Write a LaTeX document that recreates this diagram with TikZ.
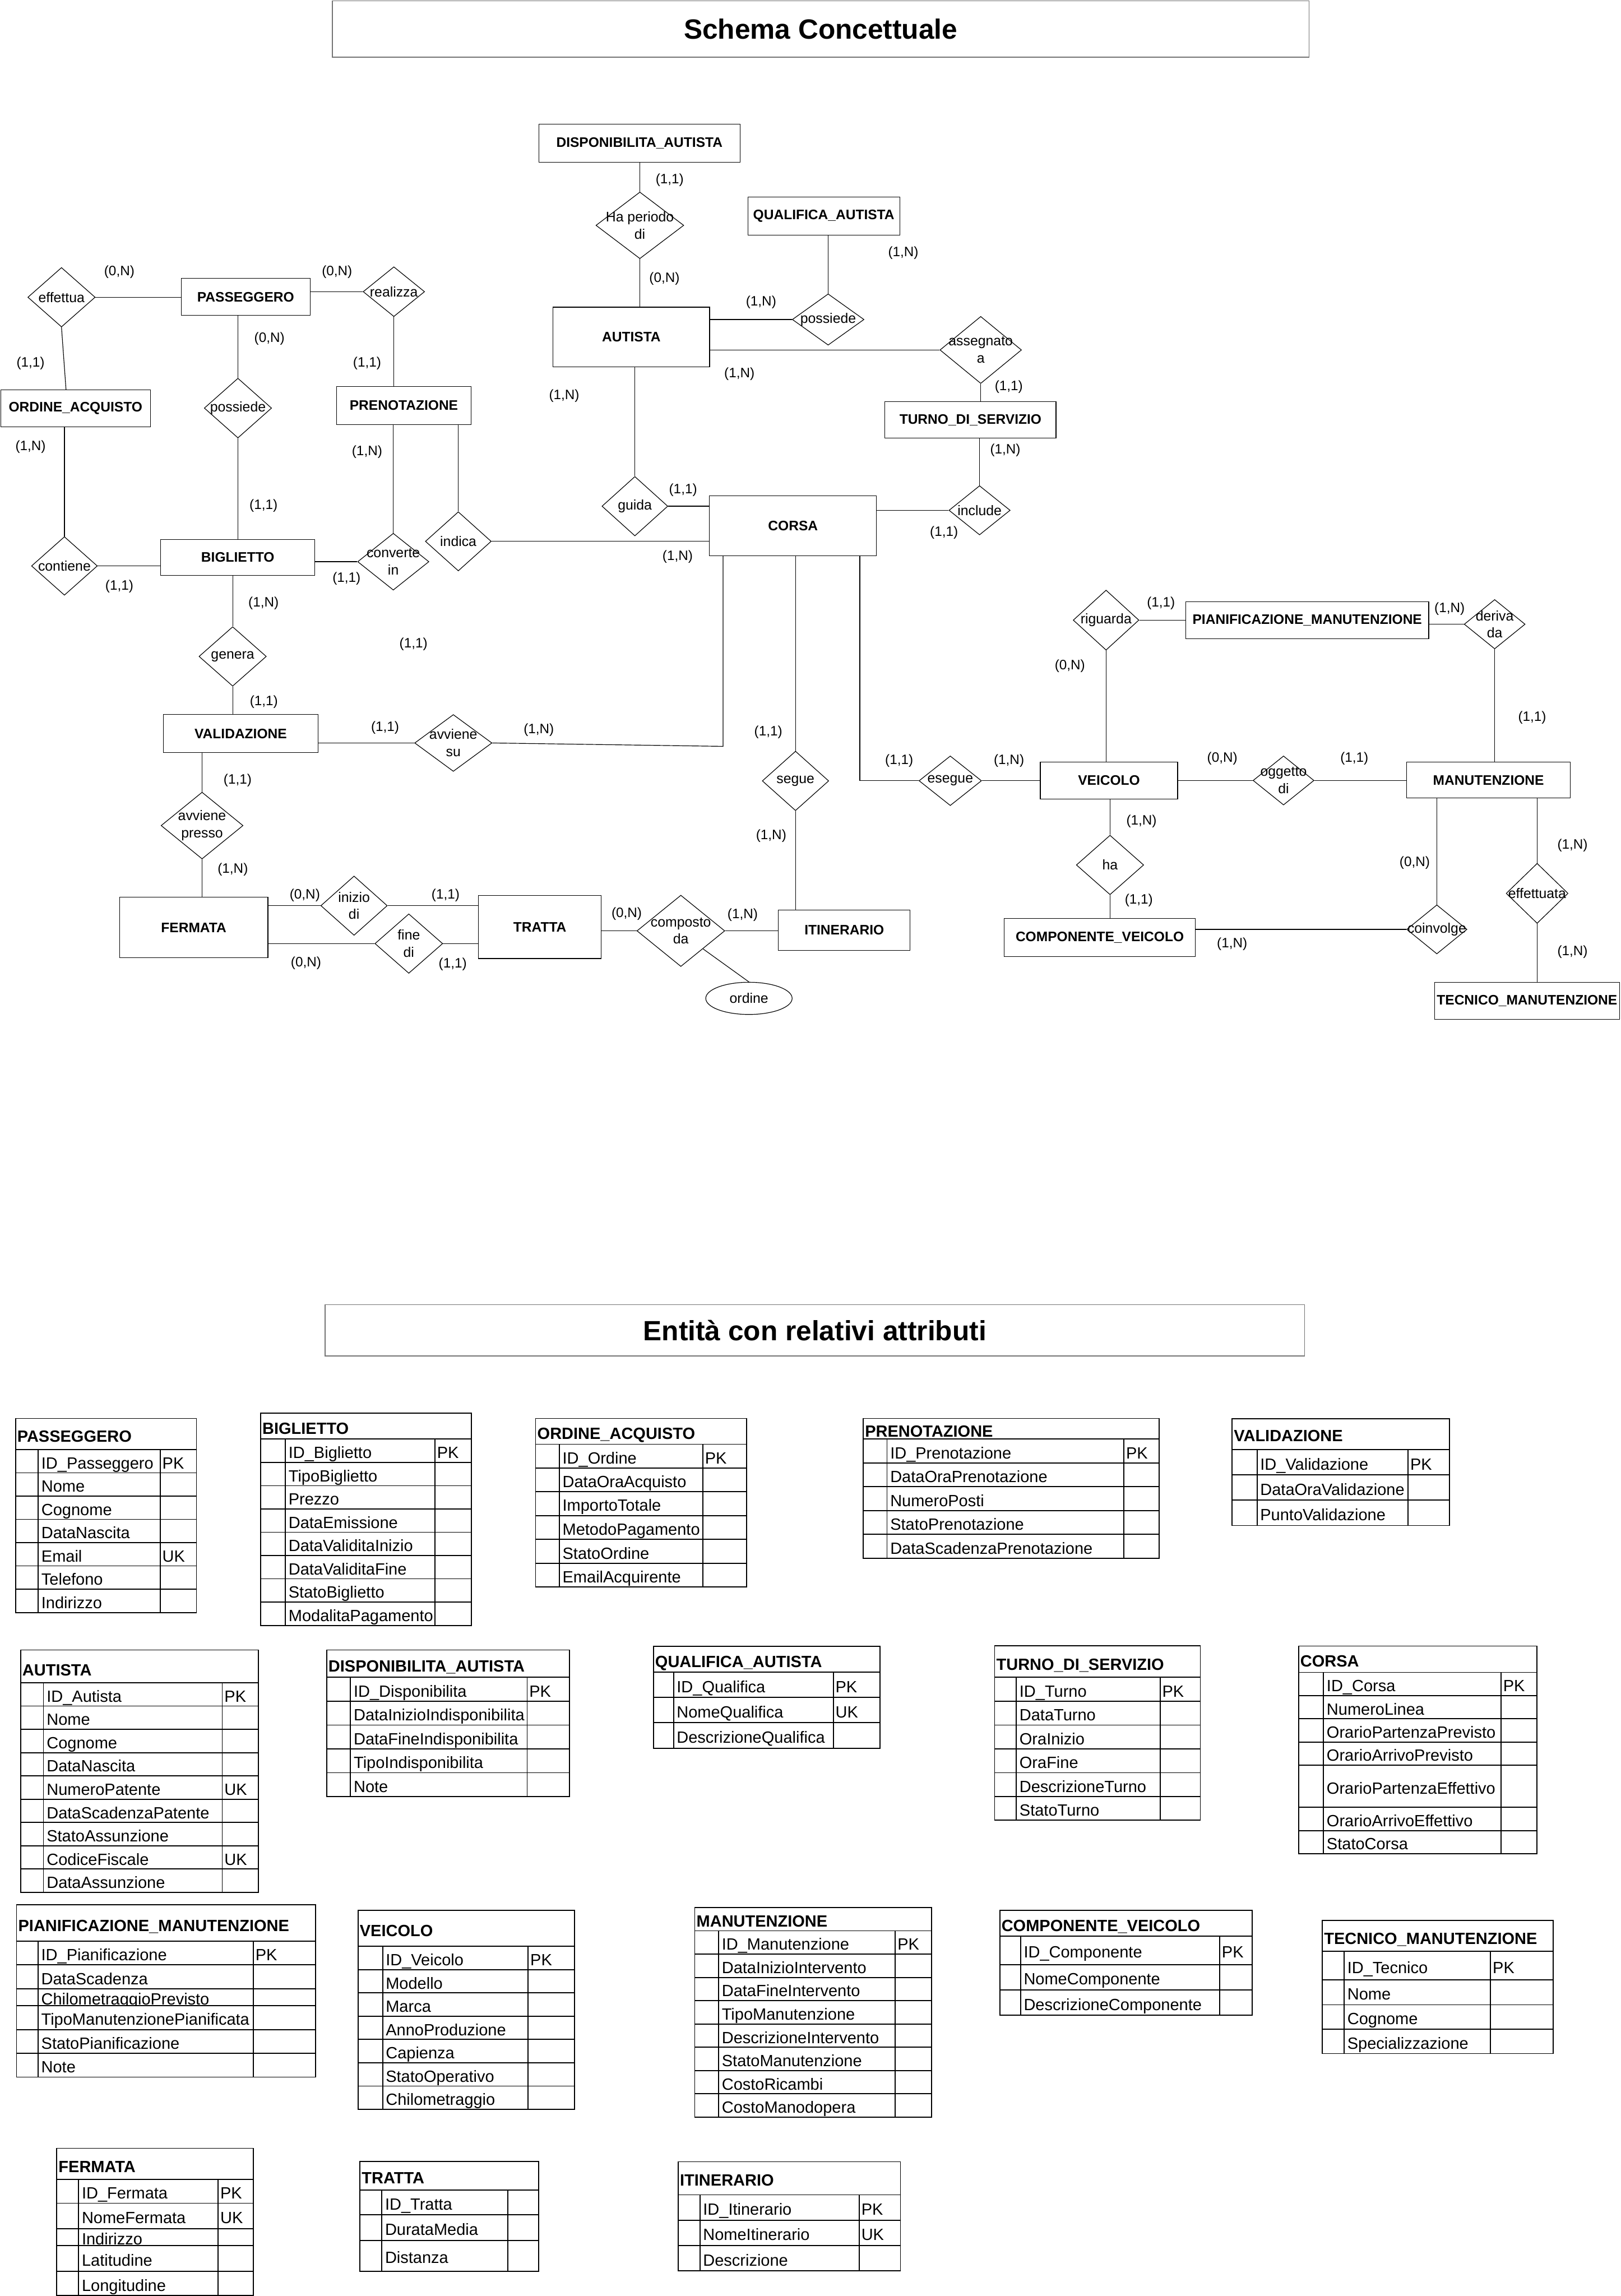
\documentclass[tikz,border=0pt]{standalone}
\usepackage{fontspec}
\setmainfont{Liberation Sans}
\usetikzlibrary{shapes.geometric}
\tikzset{
  ent/.style={draw, line width=0.45pt, inner sep=0pt, font=\fontsize{9.4}{11}\selectfont\bfseries},
  reldia/.style={draw, diamond, line width=0.45pt, inner sep=0pt},
  reltxt/.style={font=\fontsize{9.5}{11.8}\selectfont, align=center, inner sep=0pt},
  card/.style={font=\fontsize{9.3}{11}\selectfont, inner sep=0pt},
  conn/.style={line width=0.45pt},
  tline/.style={line width=0.7pt},
  ttitle/.style={font=\fontsize{11.1}{13}\selectfont\bfseries, anchor=base west, inner sep=0pt},
  tcell/.style={font=\fontsize{11.1}{13}\selectfont, anchor=base west, inner sep=0pt},
  bigtitle/.style={draw=black!55, line width=0.5pt, inner sep=0pt, font=\fontsize{19}{22}\selectfont\bfseries}
}
\newcommand{\reln}[6]{%
  \node[reldia, minimum width=#4pt, minimum height=#5pt] (#1) at (#2,#3) {};
  \node[reltxt] (#1t) at (#1) {#6};}
\newcommand{\ertable}[8]{%
  \draw[tline] (#2,#6) rectangle (#3,#7);
  \foreach \yb/\txt/\kk [remember=\yb as \ya (initially #7), count=\ci] in {#8} {
    \draw[tline, fill=white] (#2,\ya) rectangle (#3,\yb);
    \draw[tline] (#4,\ya) -- (#4,\yb) (#5,\ya) -- (#5,\yb);
    \node[tcell] (#1r\ci) at ({#4+2},{(\ya+\yb)/2+5.2}) {\txt};
    \node[tcell] (#1k\ci) at ({#5+1.3},{(\ya+\yb)/2+5.2}) {\kk};
  }}
\begin{document}
\begin{tikzpicture}[x=1pt,y=-1pt]
\useasboundingbox (0,0) rectangle (1107.07,1568);
\fill[white] (0,0) rectangle (1107.07,1568);

% ---------- titles ----------
\node[bigtitle, minimum width=667pt, minimum height=38.4pt] (title1) at (560.5,19.8) {Schema Concettuale};
\node[bigtitle, minimum width=669pt, minimum height=35pt] (title2) at (556.5,908.5) {Entità con relativi attributi};

% ---------- entities ----------
\node[ent, minimum width=137.5pt, minimum height=25.9pt] (dispa) at (436.7,97.9) {DISPONIBILITA\_AUTISTA};
\node[ent, minimum width=103.8pt, minimum height=25.9pt] (quala) at (562.6,147.5) {QUALIFICA\_AUTISTA};
\node[ent, minimum width=88.1pt, minimum height=25.2pt] (pass) at (167.8,202.8) {PASSEGGERO};
\node[ent, minimum width=106.9pt, minimum height=40.6pt] (autista) at (431.2,230.1) {AUTISTA};
\node[ent, minimum width=102.2pt, minimum height=25.2pt] (ordacq) at (51.6,279) {ORDINE\_ACQUISTO};
\node[ent, minimum width=92pt, minimum height=25.9pt] (pren) at (275.8,276.9) {PRENOTAZIONE};
\node[ent, minimum width=116.8pt, minimum height=24.8pt] (turno) at (662.8,286.7) {TURNO\_DI\_SERVIZIO};
\node[ent, minimum width=114pt, minimum height=41pt] (corsa) at (541.6,359) {CORSA};
\node[ent, minimum width=105.3pt, minimum height=24.8pt] (bigl) at (162.4,380.7) {BIGLIETTO};
\node[ent, minimum width=166pt, minimum height=25pt] (pianif) at (892.8,423.6) {PIANIFICAZIONE\_MANUTENZIONE};
\node[ent, minimum width=105.5pt, minimum height=26pt] (valid) at (164.4,501) {VALIDAZIONE};
\node[ent, minimum width=93.8pt, minimum height=25.3pt] (veic) at (757.4,533) {VEICOLO};
\node[ent, minimum width=111.8pt, minimum height=24.7pt] (manut) at (1016.6,532.7) {MANUTENZIONE};
\node[ent, minimum width=101.4pt, minimum height=41.2pt] (ferm) at (132.3,633.4) {FERMATA};
\node[ent, minimum width=83.9pt, minimum height=43.2pt] (tratta) at (368.7,633) {TRATTA};
\node[ent, minimum width=90pt, minimum height=27.4pt] (itin) at (576.6,635.2) {ITINERARIO};
\node[ent, minimum width=130.6pt, minimum height=25.9pt] (compv) at (751.1,640.2) {COMPONENTE\_VEICOLO};
\node[ent, minimum width=126.2pt, minimum height=25.4pt] (tecn) at (1042.9,683.5) {TECNICO\_MANUTENZIONE};

% ---------- relationships ----------
\reln{hp}{437}{153.9}{60}{45.5}{Ha periodo\\di}
\reln{effettua}{42}{203}{46}{40.6}{effettua}
\reln{realizza}{269}{199.2}{42}{34}{realizza}
\reln{possl}{162.5}{278.7}{46}{40.8}{possiede}
\reln{possr}{565.6}{218.2}{49}{35}{possiede}
\reln{assegn}{669.8}{239}{55.7}{45.8}{assegnato\\a}
\reln{guida}{433.6}{345.7}{45}{40.6}{guida}
\reln{indica}{313}{369.7}{45}{40.4}{indica}
\reln{contiene}{44}{386.5}{45}{40}{contiene}
\reln{conv}{268.6}{383.6}{48.7}{38.8}{converte\\in}
\reln{include}{669}{348.5}{41.8}{33.6}{include}
\reln{genera}{158.9}{448.3}{46}{40.6}{genera}
\reln{avsu}{309.6}{507.4}{52.8}{38.8}{avviene\\su}
\reln{avpr}{138}{563.8}{56}{45.6}{avviene\\presso}
\reln{inizio}{241.8}{618.5}{45.4}{40.5}{inizio\\di}
\reln{fine}{279.2}{644.4}{46.3}{40.6}{fine\\di}
\reln{compd}{465}{635.7}{60}{48.7}{composto\\da}
\reln{segue}{543.3}{533.3}{45.4}{40.6}{segue}
\reln{esegue}{649}{533.2}{42.7}{33.9}{esegue}
\reln{ogg}{876.6}{533}{41.6}{33.5}{oggetto\\di}
\reln{riguarda}{755.4}{423.5}{44.9}{41}{riguarda}
\reln{deriva}{1020.8}{426.3}{41.6}{33.7}{deriva\\da}
\reln{ha}{758.1}{590.7}{46}{40.6}{ha}
\reln{coinv}{981.3}{634.7}{41.2}{33.5}{coinvolge}
\reln{effett}{1049.8}{610.1}{42.3}{41}{effettuata}
\node[draw, ellipse, line width=0.45pt, inner sep=0pt, minimum width=59pt, minimum height=22pt, font=\fontsize{9.5}{11}\selectfont] (ordattr) at (511.5,681.8) {ordine};

% ---------- connectors ----------
\draw[conn] (hp.north |- dispa.south) -- (hp.north);
\draw[conn] (hp.south) -- (hp.south |- autista.north);
\draw[conn] (possr.north |- quala.south) -- (possr.north);
\draw[conn] (autista.east |- possr.west) -- (possr.west);
\draw[conn] (autista.east |- assegn.west) -- (assegn.west);
\draw[conn] (assegn.south) -- (assegn.south |- turno.north);
\draw[conn] (include.north |- turno.south) -- (include.north);
\draw[conn] (corsa.east |- include.west) -- (include.west);
\draw[conn] (guida.north |- autista.south) -- (guida.north);
\draw[conn] (guida.east) -- (corsa.west |- guida.east);
\draw[conn] (indica.east) -- (corsa.west |- indica.east);
\draw[conn] (effettua.east) -- (pass.west |- effettua.east);
\draw[conn] (effettua.south) -- ([xshift=-6.5pt]ordacq.north);
\draw[conn] (pass.east |- realizza.west) -- (realizza.west);
\draw[conn] (possl.north |- pass.south) -- (possl.north);
\draw[conn] (realizza.south) -- (realizza.south |- pren.north);
\draw[conn] (contiene.north |- ordacq.south) -- (contiene.north);
\draw[conn] (possl.south) -- (possl.south |- bigl.north);
\draw[conn] (conv.north |- pren.south) -- (conv.north);
\draw[conn] (indica.north |- pren.south) -- (indica.north);
\draw[conn] (contiene.east) -- (bigl.west |- contiene.east);
\draw[conn] (bigl.east |- conv.west) -- (conv.west);
\draw[conn] (genera.north |- bigl.south) -- (genera.north);
\draw[conn] (genera.south) -- (genera.south |- valid.north);
\draw[conn] (valid.east |- avsu.west) -- (avsu.west);
\coordinate (cv) at (493.8,509.7);
\draw[conn] (avsu.east) -- (cv) -- (cv |- corsa.south);
\draw[conn] (avpr.north |- valid.south) -- (avpr.north);
\draw[conn] (avpr.south) -- (avpr.south |- ferm.north);
\draw[conn] (ferm.east |- inizio.west) -- (inizio.west);
\draw[conn] (inizio.east) -- (tratta.west |- inizio.east);
\draw[conn] (ferm.east |- fine.west) -- (fine.west);
\draw[conn] (fine.east) -- (tratta.west |- fine.east);
\draw[conn] (tratta.east |- compd.west) -- (compd.west);
\draw[conn] (compd.east) -- (itin.west |- compd.east);
\draw[conn] (compd.south east) -- (ordattr.north);
\draw[conn] (segue.north |- corsa.south) -- (segue.north);
\draw[conn] (segue.south) -- (segue.south |- itin.north);
\coordinate (ce) at (587.2,533.2);
\draw[conn] (ce |- corsa.south) -- (ce) -- (esegue.west);
\draw[conn] (esegue.east) -- (veic.west |- esegue.east);
\draw[conn] (veic.east |- ogg.west) -- (ogg.west);
\draw[conn] (ogg.east) -- (manut.west |- ogg.east);
\draw[conn] (riguarda.east) -- (pianif.west |- riguarda.east);
\draw[conn] (riguarda.south) -- (riguarda.south |- veic.north);
\draw[conn] (pianif.east |- deriva.west) -- (deriva.west);
\draw[conn] (deriva.south) -- (deriva.south |- manut.north);
\draw[conn] (ha.north |- veic.south) -- (ha.north);
\draw[conn] (ha.south) -- (ha.south |- compv.north);
\draw[conn] (compv.east |- coinv.west) -- (coinv.west);
\draw[conn] (coinv.north |- manut.south) -- (coinv.north);
\draw[conn] (effett.north |- manut.south) -- (effett.north);
\draw[conn] (effett.south) -- (effett.south |- tecn.north);

% ---------- cardinalities ----------
\node[card] (k1) at (457.4,123) {(1,1)};
\node[card] (k2) at (81.5,185.7) {(0,N)};
\node[card] (k3) at (230.2,185.7) {(0,N)};
\node[card] (k4) at (453.8,190.2) {(0,N)};
\node[card] (k5) at (519.8,206.6) {(1,N)};
\node[card] (k6) at (184,231.2) {(0,N)};
\node[card] (k7) at (20.9,248.3) {(1,1)};
\node[card] (k8) at (250.7,248.3) {(1,1)};
\node[card] (k9) at (505,255.6) {(1,N)};
\node[card] (k10) at (385.3,270.2) {(1,N)};
\node[card] (k11) at (20.9,305.1) {(1,N)};
\node[card] (k12) at (250.7,308.5) {(1,N)};
\node[card] (k13) at (466.5,334.5) {(1,1)};
\node[card] (k14) at (180,345.3) {(1,1)};
\node[card] (k15) at (462.8,380.2) {(1,N)};
\node[card] (k16) at (236.7,395.3) {(1,1)};
\node[card] (k17) at (81.5,400.5) {(1,1)};
\node[card] (k18) at (180,411.8) {(1,N)};
\node[card] (k19) at (616.9,172.6) {(1,N)};
\node[card] (k20) at (689,264.1) {(1,1)};
\node[card] (k21) at (686.6,307.4) {(1,N)};
\node[card] (k22) at (644.7,363.8) {(1,1)};
\node[card] (k23) at (282.4,440.1) {(1,1)};
\node[card] (k24) at (180.2,479.3) {(1,1)};
\node[card] (k25) at (263,497.1) {(1,1)};
\node[card] (k26) at (368,498.4) {(1,N)};
\node[card] (k27) at (162.3,532.8) {(1,1)};
\node[card] (k28) at (159,593.7) {(1,N)};
\node[card] (k29) at (208.2,611.6) {(0,N)};
\node[card] (k30) at (304.3,611.6) {(1,1)};
\node[card] (k31) at (209,657.6) {(0,N)};
\node[card] (k32) at (309.2,658.6) {(1,1)};
\node[card] (k33) at (428,624.1) {(0,N)};
\node[card] (k34) at (507.2,624.7) {(1,N)};
\node[card] (k35) at (524.7,500) {(1,1)};
\node[card] (k36) at (526.7,570.8) {(1,N)};
\node[card] (k37) at (614.1,519.7) {(1,1)};
\node[card] (k38) at (689.1,519.7) {(1,N)};
\node[card] (k39) at (834.8,518) {(0,N)};
\node[card] (k40) at (925,518) {(1,1)};
\node[card] (k41) at (792.9,412.1) {(1,1)};
\node[card] (k42) at (990,415.8) {(1,N)};
\node[card] (k43) at (1046.4,490.2) {(1,1)};
\node[card] (k44) at (730.7,454.7) {(0,N)};
\node[card] (k45) at (779.6,560.8) {(1,N)};
\node[card] (k46) at (777.8,615) {(1,1)};
\node[card] (k47) at (841.5,644.8) {(1,N)};
\node[card] (k48) at (966.2,589.2) {(0,N)};
\node[card] (k49) at (1074,577.5) {(1,N)};
\node[card] (k50) at (1074,650.1) {(1,N)};

% ---------- tables ----------
\ertable{tpass}{10.6}{134.2}{26.1}{109.4}{968.7}{989.9}{1005.8/ID\_Passeggero/PK, 1021.7/Nome/{}, 1037.6/Cognome/{}, 1053.5/DataNascita/{}, 1069.4/Email/UK, 1085.3/Telefono/{}, 1101.2/Indirizzo/{}}
\node[ttitle] (tpassh) at (11.6,984.9) {PASSEGGERO};

\ertable{tbigl}{178}{322}{194.9}{297}{965.1}{982.8}{998.7/ID\_Biglietto/PK, 1014.6/TipoBiglietto/{}, 1030.5/Prezzo/{}, 1046.4/DataEmissione/{}, 1062.3/DataValiditaInizio/{}, 1078.2/DataValiditaFine/{}, 1094.1/StatoBiglietto/{}, 1110.0/ModalitaPagamento/{}}
\node[ttitle] (tbiglh) at (179,979.5) {BIGLIETTO};

\ertable{tord}{365.8}{509.8}{382}{480}{968.7}{986.3}{1002.5/ID\_Ordine/PK, 1018.7/DataOraAcquisto/{}, 1035/ImportoTotale/{}, 1051.3/MetodoPagamento/{}, 1067.5/StatoOrdine/{}, 1083.8/EmailAcquirente/{}}
\node[ttitle] (tordh) at (366.8,983) {ORDINE\_ACQUISTO};

\ertable{tpren}{589.6}{791.6}{605.8}{767.6}{968.7}{982.8}{999.1/ID\_Prenotazione/PK, 1015.3/DataOraPrenotazione/{}, 1031.6/NumeroPosti/{}, 1047.8/StatoPrenotazione/{}, 1064.1/DataScadenzaPrenotazione/{}}
\node[ttitle] (tprenh) at (590.6,981.3) {PRENOTAZIONE};

\ertable{tval}{841.5}{989.8}{858.5}{961.7}{968.8}{990}{1007.2/ID\_Validazione/PK, 1024.5/DataOraValidazione/{}, 1041.8/PuntoValidazione/{}}
\node[ttitle] (tvalh) at (842.5,984.5) {VALIDAZIONE};

\ertable{taut}{14.1}{176.5}{29.7}{151.8}{1126.8}{1149.2}{1165.1/ID\_Autista/PK, 1181/Nome/{}, 1196.9/Cognome/{}, 1212.8/DataNascita/{}, 1228.7/NumeroPatente/UK, 1244.6/DataScadenzaPatente/{}, 1260.5/StatoAssunzione/{}, 1276.4/CodiceFiscale/UK, 1292.3/DataAssunzione/{}}
\node[ttitle] (tauth) at (15.1,1144.5) {AUTISTA};

\ertable{tdisp}{223.1}{389}{239.4}{360}{1126.8}{1145.5}{1161.8/ID\_Disponibilita/PK, 1178.1/DataInizioIndisponibilita/{}, 1194.3/DataFineIndisponibilita/{}, 1210.6/TipoIndisponibilita/{}, 1226.8/Note/{}}
\node[ttitle] (tdisph) at (224.1,1141.6) {DISPONIBILITA\_AUTISTA};

\ertable{tqual}{446.3}{601}{460}{569.1}{1124.2}{1141.9}{1159.2/ID\_Qualifica/PK, 1176.5/NomeQualifica/UK, 1193.9/DescrizioneQualifica/{}}
\node[ttitle] (tqualh) at (447.3,1138.6) {QUALIFICA\_AUTISTA};

\ertable{tturno}{679.3}{819.8}{694.1}{792.3}{1124}{1145.5}{1161.8/ID\_Turno/PK, 1178.1/DataTurno/{}, 1194.3/OraInizio/{}, 1210.6/OraFine/{}, 1226.8/DescrizioneTurno/{}, 1243.1/StatoTurno/{}}
\node[ttitle] (tturnoh) at (680.3,1140.4) {TURNO\_DI\_SERVIZIO};

\ertable{tcorsa}{886.9}{1049.8}{903.9}{1025.1}{1124.1}{1142.1}{1158/ID\_Corsa/PK, 1173.8/NumeroLinea/{}, 1189.7/OrarioPartenzaPrevisto/{}, 1205.4/OrarioArrivoPrevisto/{}, 1234.3/OrarioPartenzaEffettivo/{}, 1250.2/OrarioArrivoEffettivo/{}, 1265.8/StatoCorsa/{}}
\node[ttitle] (tcorsah) at (887.9,1138.2) {CORSA};

\ertable{tpian}{11.3}{215.4}{26}{173}{1300.9}{1325.7}{1341.8/ID\_Pianificazione/PK, 1358.1/DataScadenza/{}, 1369.7/ChilometraggioPrevisto/{}, 1386/TipoManutenzionePianificata/{}, 1402.3/StatoPianificazione/{}, 1418.5/Note/{}}
\node[ttitle] (tpianh) at (12.3,1318.9) {PIANIFICAZIONE\_MANUTENZIONE};

\ertable{tveic}{244.5}{392.4}{261.3}{360.7}{1304.6}{1329.1}{1345.1/ID\_Veicolo/PK, 1361/Modello/{}, 1376.9/Marca/{}, 1392.8/AnnoProduzione/{}, 1408.7/Capienza/{}, 1424.6/StatoOperativo/{}, 1440.5/Chilometraggio/{}}
\node[ttitle] (tveich) at (245.5,1322.4) {VEICOLO};

\ertable{tman}{474.5}{636.2}{490.8}{611.5}{1302.7}{1318.6}{1334.5/ID\_Manutenzione/PK, 1350.4/DataInizioIntervento/{}, 1366.3/DataFineIntervento/{}, 1382.2/TipoManutenzione/{}, 1398.1/DescrizioneIntervento/{}, 1414/StatoManutenzione/{}, 1429.9/CostoRicambi/{}, 1445.8/CostoManodopera/{}}
\node[ttitle] (tmanh) at (475.5,1315.9) {MANUTENZIONE};

\ertable{tcomp}{682.8}{855.1}{697}{833}{1304.5}{1322.1}{1341.7/ID\_Componente/PK, 1358.9/NomeComponente/{}, 1376.2/DescrizioneComponente/{}}
\node[ttitle] (tcomph) at (683.8,1318.9) {COMPONENTE\_VEICOLO};

\ertable{ttec}{903.1}{1060.6}{918}{1018}{1311.5}{1332.7}{1352.2/ID\_Tecnico/PK, 1369.1/Nome/{}, 1385.8/Cognome/{}, 1402.4/Specializzazione/{}}
\node[ttitle] (ttech) at (904.1,1327.7) {TECNICO\_MANUTENZIONE};

\ertable{tferm}{38.8}{173}{53.7}{149}{1467.1}{1488.3}{1504.6/ID\_Fermata/PK, 1521.9/NomeFermata/UK, 1533.6/Indirizzo/{}, 1551.2/Latitudine/{}, 1567.5/Longitudine/{}}
\node[ttitle] (tfermh) at (39.8,1483.6) {FERMATA};

\ertable{ttratta}{245.9}{368}{260.8}{346.8}{1476.1}{1495.5}{1512.6/ID\_Tratta/{}, 1530/DurataMedia/{}, 1551/Distanza/{}}
\node[ttitle] (ttrattah) at (246.9,1491.1) {TRATTA};

\ertable{titin}{463.2}{615}{478}{586.8}{1476.3}{1498.9}{1516.2/ID\_Itinerario/PK, 1533.5/NomeItinerario/UK, 1550.9/Descrizione/{}}
\node[ttitle] (titinh) at (464.2,1492.7) {ITINERARIO};

\end{tikzpicture}
\end{document}
